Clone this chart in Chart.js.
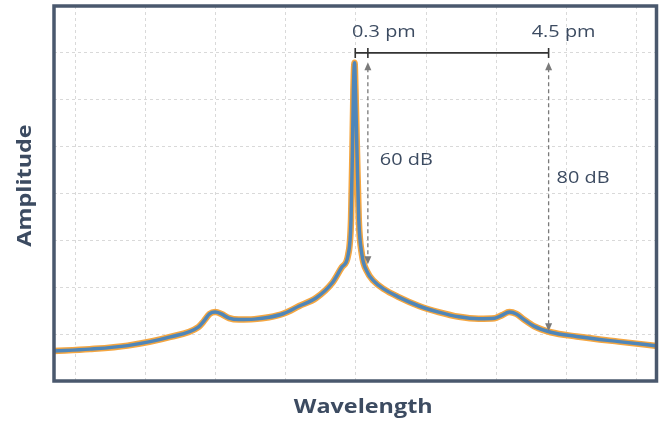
<!DOCTYPE html>
<html>
<head>
<meta charset="utf-8">
<script src="https://cdn.jsdelivr.net/npm/chart.js@4.4.1/dist/chart.umd.min.js"></script>
<style>
  html, body { margin: 0; padding: 0; background: #fff; }
  #wrap { width: 665px; height: 423px; }
</style>
</head>
<body>
<div id="wrap"><canvas id="spectrum"></canvas></div>
<script>
// spectrum trace, x in grid units (peak near 0), y in grid units
const waveX = [-4.33,-3.80,-3.26,-2.65,-2.25,-2.17,-2.09,-2.01,-1.92,-1.81,-1.67,-1.45,-1.24,-1.03,-0.81,-0.57,-0.34,-0.20,-0.11,-0.07,-0.05,-0.036,-0.02,-0.007,0.014,0.04,0.085,0.157,0.256,0.40,0.61,0.90,1.18,1.47,1.75,1.98,2.08,2.19,2.29,2.39,2.54,2.78,3.15,3.75,4.32];
const amp   = [0.64,0.68,0.755,0.94,1.15,1.28,1.43,1.47,1.43,1.34,1.31,1.32,1.36,1.44,1.60,1.77,2.09,2.43,2.70,3.45,4.94,6.21,6.79,6.21,4.94,3.45,2.70,2.34,2.13,1.96,1.79,1.60,1.47,1.37,1.33,1.34,1.40,1.47,1.43,1.32,1.17,1.04,0.95,0.84,0.745];

// annotation data
const spanX = [-0.01, 0.17, 2.75];      // bracket ticks: peak, 0.3 pm, 4.5 pm
const spanY = 7;
const spanLabels = ['0.3 pm', '4.5 pm'];
const dbLabels = ['60 dB', '80 dB'];
const dbArrowTop = 6.8;
const dbArrowBottom = [2.49, 1.06];
const dbLabelY = [4.72, 4.33];
const xTitle = 'Wavelength';
const yTitle = 'Amplitude';

const ink = '#3c4b61';
const stretch = 1.17;

function wideText(ctx, txt, x, y, align, angle) {
  ctx.save();
  ctx.translate(x, y);
  if (angle) ctx.rotate(angle);
  ctx.scale(stretch, 1);
  ctx.textAlign = align;
  ctx.textBaseline = 'middle';
  ctx.fillText(txt, 0, 0);
  ctx.restore();
}

const frameAndNotes = {
  id: 'frameAndNotes',
  afterDatasetsDraw(chart) {
    const {ctx, chartArea: a, scales: {x, y}} = chart;
    ctx.save();
    // dashed arrows
    ctx.strokeStyle = '#7a7a7a';
    ctx.fillStyle = '#7a7a7a';
    ctx.lineWidth = 1.3;
    [1, 2].forEach((k, i) => {
      const px = x.getPixelForValue(spanX[k]);
      const top = y.getPixelForValue(dbArrowTop);
      const bot = y.getPixelForValue(dbArrowBottom[i]);
      ctx.setLineDash([4, 3]);
      ctx.beginPath();
      ctx.moveTo(px, top + 6);
      ctx.lineTo(px, bot - 6);
      ctx.stroke();
      ctx.setLineDash([]);
      ctx.beginPath();
      ctx.moveTo(px, top); ctx.lineTo(px - 3.5, top + 8); ctx.lineTo(px + 3.5, top + 8); ctx.closePath();
      ctx.fill();
      ctx.beginPath();
      ctx.moveTo(px, bot); ctx.lineTo(px - 3.5, bot - 8); ctx.lineTo(px + 3.5, bot - 8); ctx.closePath();
      ctx.fill();
    });
    // bracket
    const by = y.getPixelForValue(spanY);
    ctx.strokeStyle = '#333';
    ctx.lineWidth = 1.6;
    ctx.beginPath();
    ctx.moveTo(x.getPixelForValue(spanX[0]), by);
    ctx.lineTo(x.getPixelForValue(spanX[2]), by);
    spanX.forEach(v => {
      const px = x.getPixelForValue(v);
      ctx.moveTo(px, by - 5);
      ctx.lineTo(px, by + 5);
    });
    ctx.stroke();
    // labels
    ctx.fillStyle = ink;
    ctx.font = '17px "Open Sans"';
    wideText(ctx, spanLabels[0], x.getPixelForValue(spanX[1]) + 16, by - 21, 'center');
    wideText(ctx, spanLabels[1], x.getPixelForValue(spanX[2]) + 15, by - 21, 'center');
    wideText(ctx, dbLabels[0], x.getPixelForValue(spanX[1]) + 12, y.getPixelForValue(dbLabelY[0]), 'left');
    wideText(ctx, dbLabels[1], x.getPixelForValue(spanX[2]) + 8, y.getPixelForValue(dbLabelY[1]), 'left');
    // axis titles
    ctx.font = 'bold 20px "Open Sans"';
    wideText(ctx, xTitle, (a.left + a.right) / 2 + 8, 407, 'center');
    wideText(ctx, yTitle, 25, (a.top + a.bottom) / 2 - 8, 'center', -Math.PI / 2);
    // frame
    ctx.strokeStyle = '#4a586d';
    ctx.lineWidth = 3.5;
    ctx.strokeRect(a.left, a.top, a.right - a.left, a.bottom - a.top);
    ctx.restore();
  }
};

const pts = waveX.map((v, i) => ({x: v, y: amp[i]}));

new Chart(document.getElementById('spectrum'), {
  type: 'line',
  data: {
    datasets: [
      {
        data: pts,
        borderColor: '#4f86b9',
        borderWidth: 3.5,
        pointRadius: 0,
        cubicInterpolationMode: 'monotone'
      },
      {
        data: pts,
        borderColor: '#f4a641',
        borderWidth: 6.5,
        pointRadius: 0,
        cubicInterpolationMode: 'monotone'
      }
    ]
  },
  options: {
    responsive: true,
    maintainAspectRatio: false,
    animation: false,
    layout: { padding: { top: 6, right: 8.5, left: 0, bottom: 0 } },
    plugins: { legend: { display: false }, tooltip: { enabled: false } },
    scales: {
      x: {
        type: 'linear',
        min: -4.31,
        max: 4.29,
        ticks: { display: false, stepSize: 1, includeBounds: false },
        grid: { color: '#d9d9d9', lineWidth: 1, drawTicks: false },
        border: { display: false, dash: [3, 3] },
        afterFit(s) { s.height = 42; }
      },
      y: {
        min: 0,
        max: 8,
        ticks: { display: false, stepSize: 1 },
        grid: { color: '#d9d9d9', lineWidth: 1, drawTicks: false },
        border: { display: false, dash: [3, 3] },
        afterFit(s) { s.width = 54; }
      }
    }
  },
  plugins: [frameAndNotes]
});
</script>
</body>
</html>
